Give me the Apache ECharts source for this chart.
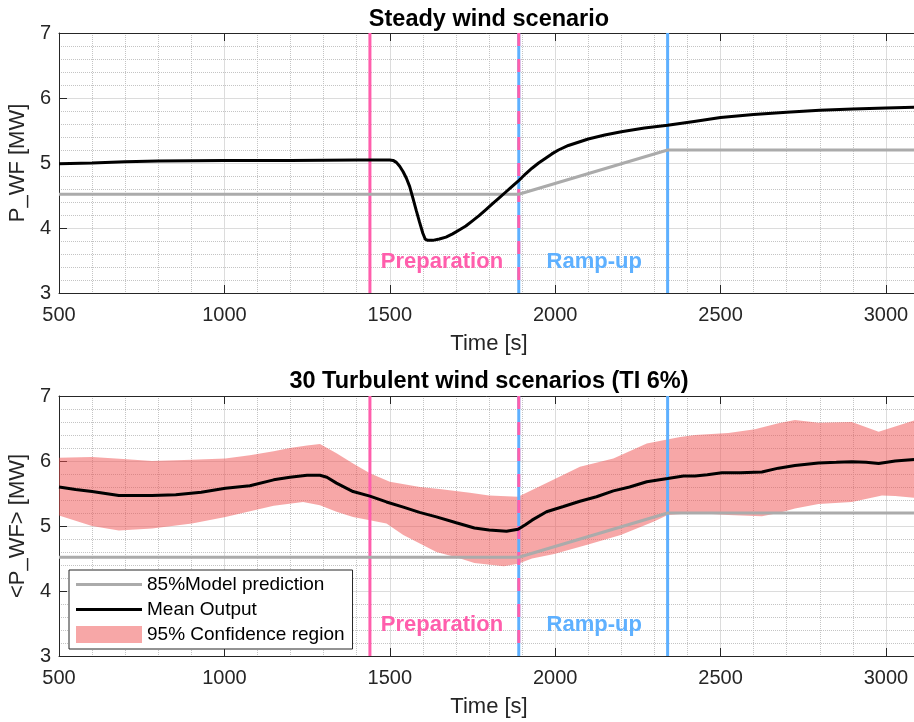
<!DOCTYPE html>
<html>
<head>
<meta charset="utf-8">
<script src="https://cdn.jsdelivr.net/npm/echarts@6/dist/echarts.min.js"></script>
<style>html,body{margin:0;padding:0;background:#fff}#c{width:914px;height:722px}</style>
</head>
<body>
<div id="c"></div>
<script>
// ---------- data ----------
const xTickValues = [500, 1000, 1500, 2000, 2500, 3000];
const yTickValues = [3, 4, 5, 6, 7];
const phaseT = [1440, 1890, 2340];
const phaseNames = ['Preparation', 'Ramp-up'];
const phaseLabelT = [1473, 1974];
const phaseLabelV = [3.48, 3.48];

const modelT = [500, 1890, 2340, 3100];
const modelP = [4.52, 4.52, 5.2, 5.2];

const steadyT = [500, 600, 700, 800, 1000, 1200, 1400, 1500, 1510, 1520, 1530, 1540, 1550, 1560, 1570, 1580, 1590, 1600, 1607, 1615, 1630, 1650, 1670, 1690, 1710, 1730, 1750, 1770, 1790, 1810, 1830, 1850, 1870, 1888, 1910, 1930, 1950, 1970, 1990, 2010, 2040, 2070, 2100, 2150, 2200, 2270, 2340, 2420, 2500, 2600, 2700, 2800, 2900, 3000, 3100];
const steadyP = [4.99, 5.00, 5.02, 5.03, 5.04, 5.04, 5.045, 5.045, 5.04, 5.01, 4.95, 4.87, 4.77, 4.64, 4.46, 4.27, 4.09, 3.92, 3.83, 3.81, 3.81, 3.83, 3.86, 3.91, 3.97, 4.03, 4.11, 4.19, 4.28, 4.37, 4.46, 4.55, 4.64, 4.72, 4.83, 4.92, 5.00, 5.07, 5.14, 5.20, 5.27, 5.32, 5.37, 5.43, 5.48, 5.54, 5.58, 5.64, 5.70, 5.745, 5.78, 5.81, 5.83, 5.845, 5.86];

const turbT = [500, 550, 600, 681, 781, 853, 930, 1003, 1077, 1149, 1198, 1250, 1289, 1310, 1339, 1389, 1440, 1490, 1541, 1590, 1641, 1701, 1756, 1800, 1853, 1888, 1910, 1930, 1974, 2025, 2075, 2125, 2176, 2225, 2277, 2340, 2388, 2423, 2460, 2504, 2560, 2625, 2675, 2725, 2796, 2850, 2897, 2940, 2978, 3028, 3100];
const turbMean = [5.60, 5.56, 5.53, 5.47, 5.47, 5.48, 5.52, 5.58, 5.62, 5.71, 5.75, 5.78, 5.78, 5.75, 5.66, 5.53, 5.46, 5.37, 5.29, 5.21, 5.14, 5.05, 4.97, 4.94, 4.92, 4.95, 5.02, 5.09, 5.22, 5.30, 5.38, 5.45, 5.54, 5.60, 5.68, 5.73, 5.77, 5.77, 5.79, 5.82, 5.82, 5.83, 5.89, 5.93, 5.97, 5.98, 5.99, 5.98, 5.96, 6.00, 6.03];

const bandUpT = [500, 600, 694, 781, 902, 1003, 1077, 1149, 1198, 1250, 1289, 1339, 1389, 1440, 1500, 1591, 1650, 1742, 1800, 1888, 1974, 2075, 2176, 2277, 2378, 2423, 2524, 2604, 2675, 2725, 2796, 2897, 2978, 3028, 3100];
const bandUp = [6.05, 6.06, 6.03, 6.00, 6.02, 6.04, 6.09, 6.15, 6.20, 6.24, 6.26, 6.12, 5.96, 5.81, 5.68, 5.60, 5.57, 5.51, 5.47, 5.45, 5.66, 5.91, 6.04, 6.27, 6.37, 6.40, 6.43, 6.49, 6.58, 6.63, 6.59, 6.60, 6.45, 6.53, 6.65];

const bandLoT = [500, 600, 681, 781, 902, 1003, 1149, 1238, 1289, 1339, 1389, 1440, 1490, 1541, 1591, 1641, 1701, 1756, 1845, 1888, 1930, 1997, 2097, 2198, 2299, 2340, 2423, 2524, 2625, 2675, 2725, 2796, 2897, 2988, 3028, 3100];
const bandLo = [5.16, 5.00, 4.93, 4.96, 5.04, 5.14, 5.31, 5.37, 5.32, 5.22, 5.14, 5.09, 5.04, 4.86, 4.73, 4.60, 4.52, 4.43, 4.38, 4.42, 4.50, 4.57, 4.71, 4.86, 5.07, 5.17, 5.20, 5.17, 5.15, 5.20, 5.27, 5.34, 5.37, 5.47, 5.46, 5.43];

// ---------- styles ----------
const FONT = '"Liberation Sans", Arial, Helvetica, sans-serif';
const AX = '#262626';
const PINK = '#FF5EAC';
const BLUE = '#5EB0FF';
const GRAY = '#ababab';
const BAND = 'rgba(240,80,80,0.5)';
const MAJOR = '#dcdcdc';
const MINOR = '#c4c4c4';
const PHASE_COLORS = [PINK, BLUE];
const X_MIN = 500, X_MAX = 3100, Y_MIN = 3, Y_MAX = 7;

const gridTops = [33, 396];
const grids = gridTops.map(t => ({left: 59, top: t, width: 860, height: 260, outerBoundsMode: 'none', containLabel: false}));

function xAxes(g) {
  return [
    { type: 'value', gridIndex: g, position: 'bottom', min: X_MIN, max: X_MAX, interval: 500,
      axisLine: {show: true, onZero: false, lineStyle: {color: AX, width: 1}},
      axisTick: {show: true, inside: true, length: 8, lineStyle: {color: AX}},
      axisLabel: {show: true, margin: 12, fontSize: 20, color: AX, fontFamily: FONT, showMaxLabel: false,
        formatter: v => xTickValues.indexOf(v) >= 0 ? String(v) : ''},
      splitLine: {show: true, lineStyle: {color: MAJOR, width: 1}},
      name: 'Time [s]', nameLocation: 'middle', nameGap: 40,
      nameTextStyle: {fontSize: 22, color: AX, fontFamily: FONT}
    },
    { type: 'value', gridIndex: g, position: 'top', min: X_MIN, max: X_MAX, interval: 500,
      axisLine: {show: true, onZero: false, lineStyle: {color: AX, width: 1}},
      axisTick: {show: true, inside: true, length: 8, lineStyle: {color: AX}},
      axisLabel: {show: false}, splitLine: {show: false}
    },
    { type: 'value', gridIndex: g, position: 'bottom', min: X_MIN, max: X_MAX, interval: 100,
      axisLine: {show: false}, axisTick: {show: false}, axisLabel: {show: false},
      splitLine: {show: true, lineStyle: {type: 'dotted', width: 1,
        color: ['rgba(0,0,0,0)', MINOR, MINOR, MINOR, MINOR]}}
    }
  ];
}
function yAxis(g, name) {
  return { type: 'value', gridIndex: g, min: Y_MIN, max: Y_MAX, interval: 1,
    axisLine: {show: true, onZero: false, lineStyle: {color: AX, width: 1}},
    axisTick: {show: true, inside: true, length: 8, lineStyle: {color: AX}},
    axisLabel: {show: true, margin: 8, fontSize: 20, color: AX, fontFamily: FONT,
      formatter: v => yTickValues.indexOf(v) >= 0 ? String(v) : ''},
    splitLine: {show: true, lineStyle: {color: MAJOR, width: 1}},
    minorTick: {show: false, splitNumber: 5},
    minorSplitLine: {show: true, lineStyle: {type: 'dotted', color: MINOR, width: 1}},
    name: name, nameLocation: 'middle', nameGap: 22,
    nameTextStyle: {fontSize: 22, color: AX, fontFamily: FONT}
  };
}

function pairs(ts, vs) { return ts.map((t, i) => [t, vs[i]]); }

function phaseSeries(g) {
  const xi = g * 3;
  const mk = (t, color, dashed, z) => ({
    type: 'line', xAxisIndex: xi, yAxisIndex: g, data: [[t, Y_MAX], [t, Y_MIN]],
    symbol: 'none', silent: true, z: z,
    lineStyle: {color: color, width: 3, type: dashed ? [13, 13] : 'solid', cap: 'butt'}
  });
  const list = [
    mk(phaseT[0], PINK, false, 3),
    mk(phaseT[1], BLUE, false, 3),
    mk(phaseT[1], PINK, true, 4),
    mk(phaseT[2], BLUE, false, 3)
  ];
  list.push({
    type: 'scatter', xAxisIndex: xi, yAxisIndex: g, symbolSize: 0, silent: true, z: 8,
    itemStyle: {opacity: 1},
    data: phaseNames.map((n, i) => ({name: n, value: [phaseLabelT[i], phaseLabelV[i]],
      label: {color: PHASE_COLORS[i]}})),
    label: {show: true, position: [0, 0], align: 'left', verticalAlign: 'middle', opacity: 1,
      textBorderWidth: 0, textBorderColor: 'transparent', textShadowBlur: 0,
      formatter: p => p.name, fontSize: 22, fontWeight: 'bold', fontFamily: FONT}
  });
  return list;
}

const series = [];
// top chart
series.push(...phaseSeries(0));
series.push({name: 'Steady model', type: 'line', xAxisIndex: 0, yAxisIndex: 0, data: pairs(modelT, modelP),
  symbol: 'none', z: 5, lineStyle: {color: GRAY, width: 3}});
series.push({name: 'Steady output', type: 'line', xAxisIndex: 0, yAxisIndex: 0, data: pairs(steadyT, steadyP),
  symbol: 'none', z: 6, lineStyle: {color: '#000', width: 3}});
// bottom chart
series.push({name: '95% Confidence region', type: 'custom', xAxisIndex: 3, yAxisIndex: 1, data: [[X_MIN, Y_MIN]],
  z: 1, silent: true, itemStyle: {color: BAND},
  renderItem: (params, api) => {
    const pts = [];
    for (let i = 0; i < bandUpT.length; i++) pts.push(api.coord([bandUpT[i], bandUp[i]]));
    for (let i = bandLoT.length - 1; i >= 0; i--) pts.push(api.coord([bandLoT[i], bandLo[i]]));
    return {type: 'polygon', shape: {points: pts}, style: {fill: BAND, stroke: null}};
  }
});
series.push(...phaseSeries(1));
series.push({name: '85%Model prediction', type: 'line', xAxisIndex: 3, yAxisIndex: 1, data: pairs(modelT, modelP),
  symbol: 'none', z: 5, lineStyle: {color: GRAY, width: 3}});
series.push({name: 'Mean Output', type: 'line', xAxisIndex: 3, yAxisIndex: 1, data: pairs(turbT, turbMean),
  symbol: 'none', z: 6, lineStyle: {color: '#000', width: 3}});

const option = {
  animation: false,
  backgroundColor: '#fff',
  textStyle: {fontFamily: FONT},
  title: [
    {text: 'Steady wind scenario', left: 489, top: 8, textAlign: 'center', padding: 0,
      textStyle: {fontSize: 23.5, fontWeight: 'bold', color: '#000', fontFamily: FONT}},
    {text: '30 Turbulent wind scenarios (TI 6%)', left: 489, top: 370, textAlign: 'center', padding: 0,
      textStyle: {fontSize: 23.5, fontWeight: 'bold', color: '#000', fontFamily: FONT}}
  ],
  grid: grids,
  xAxis: [...xAxes(0), ...xAxes(1)],
  yAxis: [yAxis(0, 'P_WF [MW]'), yAxis(1, '<P_WF> [MW]')],
  legend: {
    show: true, orient: 'vertical', left: 69, top: 570, z: 10,
    itemWidth: 66, itemHeight: 17, itemGap: 6, padding: [5, 8, 5, 7],
    backgroundColor: '#fff', borderColor: AX, borderWidth: 1, borderRadius: 0,
    selectedMode: false, symbolKeepAspect: true,
    textStyle: {fontSize: 19, color: '#000', fontFamily: FONT},
    data: [
      {name: '85%Model prediction', icon: 'path://M0,0H66V3H0Z', itemStyle: {color: GRAY, borderWidth: 0}},
      {name: 'Mean Output', icon: 'path://M0,0H66V3H0Z', itemStyle: {color: '#000', borderWidth: 0}},
      {name: '95% Confidence region', icon: 'rect', itemStyle: {color: BAND, borderWidth: 0}}
    ]
  },
  series: series
};

const chart = echarts.init(document.getElementById('c'), null, {renderer: 'canvas'});
chart.setOption(option);
</script>
</body>
</html>
